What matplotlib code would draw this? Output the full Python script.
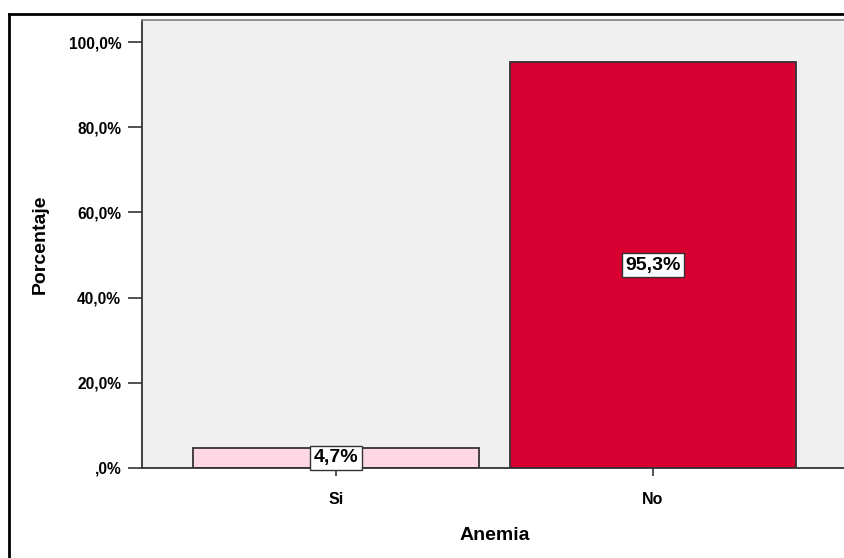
import matplotlib.pyplot as plt
from matplotlib.lines import Line2D

# datos de la variable anemia
categorias = ['Si', 'No']
porcentajes = [4.7, 95.3]
colores = ['#fdd7e4', '#d70030']
yticks = [0, 20, 40, 60, 80, 100]
ytick_labels = [',0%', '20,0%', '40,0%', '60,0%', '80,0%', '100,0%']

plt.rcParams['font.family'] = ['Liberation Sans', 'DejaVu Sans']

fig = plt.figure(figsize=(8.45, 5.58), dpi=100)
W, H = 845, 558

# marco exterior: solo lineas izquierda y superior
fig.lines.append(Line2D([9.5 / W, 9.5 / W], [0, (H - 14) / H],
                        transform=fig.transFigure, color='black', linewidth=2))
fig.lines.append(Line2D([9.5 / W, 1], [(H - 14) / H, (H - 14) / H],
                        transform=fig.transFigure, color='black', linewidth=2))

ax = fig.add_axes([142 / W, (H - 468) / H, 705 / W, 448 / H])
ax.set_facecolor('#f0f0f0')

x = range(len(categorias))
ax.bar(x, porcentajes, width=0.9, color=colores, edgecolor='#333333',
       linewidth=1.3, zorder=2)

for xi, v in zip(x, porcentajes):
    ax.text(xi, v / 2, f'{v:.1f}%'.replace('.', ','), ha='center', va='center',
            fontsize=14, fontweight='bold', zorder=3,
            bbox=dict(boxstyle='square,pad=0.18', facecolor='white',
                      edgecolor='#333333', linewidth=1))

ax.set_xlim(-0.612, 1.612)
ax.set_ylim(0, 105.2)
ax.set_xticks(list(x))
ax.set_xticklabels(categorias, fontsize=11.5, fontweight='bold')
ax.set_yticks(yticks)
ax.set_yticklabels(ytick_labels, fontsize=11.2, fontweight='bold')
ax.tick_params(axis='y', length=10, width=1.2, color='#333333', pad=5)
ax.tick_params(axis='x', length=6, width=1.2, color='#333333', pad=11)

for s in ['left', 'bottom']:
    ax.spines[s].set_color('#333333')
    ax.spines[s].set_linewidth(1.3)
for s in ['top', 'right']:
    ax.spines[s].set_color('#888888')
    ax.spines[s].set_linewidth(1.3)

ax.set_xlabel('Anemia', fontsize=14, fontweight='bold')
ax.xaxis.set_label_coords(0.5, -(536 - 468) / 448, transform=ax.transAxes)
ax.xaxis.label.set_va('center')
ax.set_ylabel('Porcentaje', fontsize=14, fontweight='bold')
ax.yaxis.set_label_coords(-(142 - 40) / 705, 0.5, transform=ax.transAxes)
ax.yaxis.label.set_va('center')

fig.savefig('out.png', dpi=100)
